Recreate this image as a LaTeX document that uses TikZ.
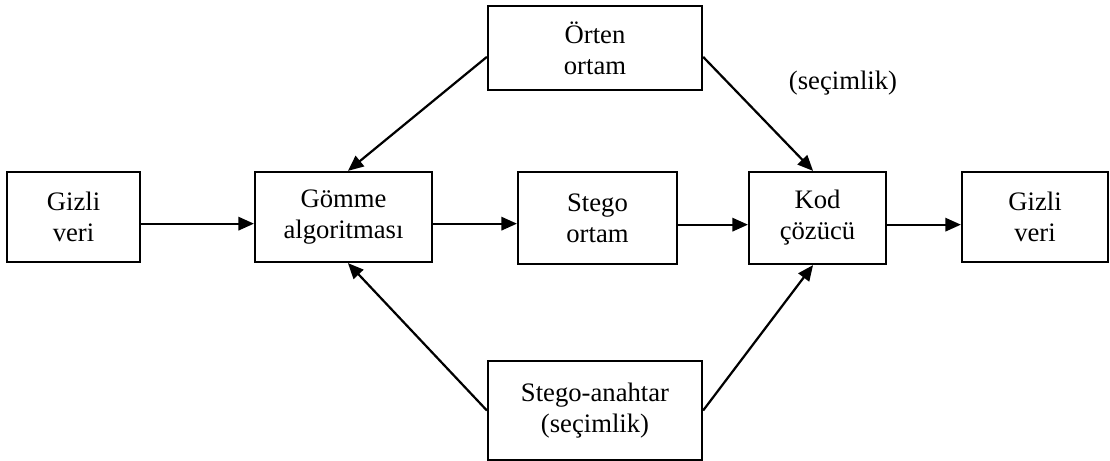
\documentclass[tikz,border=0pt]{standalone}
\usepackage{fontspec}
\setmainfont{Liberation Serif}
\usetikzlibrary{arrows.meta}

\tikzset{
  kutu/.style={draw, line width=1pt, align=center, inner sep=0pt,
    font=\fontsize{12}{14}\selectfont},
  ok/.style={line width=1pt, -{Triangle[length=7pt,width=6pt]}}
}

\begin{document}
\begin{tikzpicture}[x=0.45pt, y=-0.45pt]

\useasboundingbox (0,0) rectangle (1110,461);

\node [kutu, minimum width=59.8pt, minimum height=40.5pt] (gizliA) at (73.5,217) {Gizli\\veri};
\node [kutu, minimum width=79.6pt, minimum height=40.5pt] (gomme) at (343.5,217) {Gömme\\algoritması};
\node [kutu, minimum width=71.5pt, minimum height=41.4pt] (stego) at (597.5,218) {Stego\\ortam};
\node [kutu, minimum width=61.6pt, minimum height=41.4pt] (kod) at (817.5,218) {Kod\\çözücü};
\node [kutu, minimum width=65.7pt, minimum height=40.5pt] (gizliB) at (1035,217) {Gizli\\veri};
\node [kutu, minimum width=96.3pt, minimum height=37.8pt] (orten) at (595,48) {Örten\\ortam};
\node [kutu, minimum width=96.3pt, minimum height=44.5pt] (anahtar) at (595,410.5) {Stego-anahtar\\(seçimlik)};
\node [font=\fontsize{12}{14}\selectfont] (secim) at (843,83) {(seçimlik)};

\foreach \a/\b in {gizliA/gomme, gomme/stego, stego/kod, kod/gizliB}
   \draw [ok] ([yshift=-3pt]\a.east) -- ([yshift=-3pt]\a.east -| \b.west);

\draw [ok] ([yshift=-4pt]orten.west) -- ([xshift=2pt]gomme.north);
\draw [ok] ([yshift=-4pt]orten.east) -- ([xshift=-2pt]kod.north);
\draw [ok] (anahtar.west) -- ([xshift=2pt]gomme.south);
\draw [ok] (anahtar.east) -- ([xshift=-2pt]kod.south);

\end{tikzpicture}
\end{document}
